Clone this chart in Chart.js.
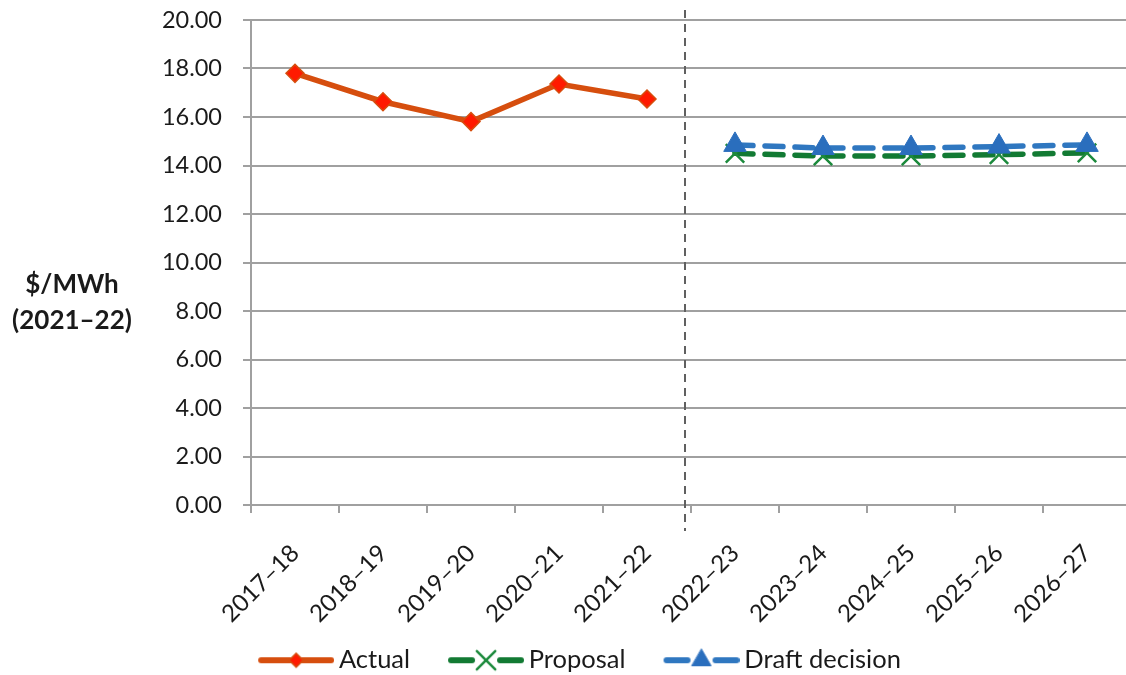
<!DOCTYPE html>
<html>
<head>
<meta charset="utf-8">
<script src="https://cdn.jsdelivr.net/npm/chart.js@4/dist/chart.umd.min.js"></script>
<style>
  html, body { margin: 0; padding: 0; background: #fff; overflow: hidden; }
  #c { display: block; }
</style>
</head>
<body>
<canvas id="c" width="1158" height="683"></canvas>
<script>
// Financial years on the category axis
const years = ['2017–18', '2018–19', '2019–20', '2020–21', '2021–22',
               '2022–23', '2023–24', '2024–25', '2025–26', '2026–27'];

// $/MWh in 2021–22 dollars
const actual   = [17.80, 16.63, 15.81, 17.36, 16.74, null, null, null, null, null];
const proposal = [null, null, null, null, null, 14.50, 14.39, 14.39, 14.45, 14.52];
const draft    = [null, null, null, null, null, 14.85, 14.72, 14.72, 14.78, 14.85];

const yTitle = ['$/MWh', '(2021–22)'];

const FONT = 'Lato, "Open Sans", sans-serif';
const GRID = '#a0a0a0';
const TEXT = '#1a1a1a';

// Legend swatch: a short line with the series marker in its middle.
// The transparent lead-in on the left spaces the legend entries apart.
const SW_LEAD = 36, SW_LINE = 76;
function swatch(ds) {
  const cv = document.createElement('canvas');
  cv.width = SW_LEAD + SW_LINE; cv.height = 28;
  const ctx = cv.getContext('2d');
  const cy = 14, x0 = SW_LEAD + 3, x1 = SW_LEAD + SW_LINE - 3, cx = (x0 + x1) / 2;
  ctx.strokeStyle = ds.borderColor;
  ctx.lineWidth = 6;
  ctx.lineCap = 'round';
  ctx.beginPath();
  if (ds.borderDash && ds.borderDash.length) {
    ctx.moveTo(x0, cy); ctx.lineTo(cx - 14, cy);
    ctx.moveTo(cx + 14, cy); ctx.lineTo(x1, cy);
  } else {
    ctx.moveTo(x0, cy); ctx.lineTo(x1, cy);
  }
  ctx.stroke();
  ctx.fillStyle = ds.pointBackgroundColor;
  ctx.strokeStyle = ds.pointBorderColor;
  ctx.lineWidth = ds.pointBorderWidth;
  Chart.helpers.drawPoint(ctx, {
    pointStyle: ds.pointStyle, radius: ds.legendRadius, rotation: 0,
    borderWidth: ds.pointBorderWidth
  }, cx, cy);
  return cv;
}

// Dashed divider between actual and forecast years, plus horizontal axis title
const extras = {
  id: 'extras',
  beforeDatasetsDraw(chart) {
    const { ctx, scales: { x, y } } = chart;
    const px = Math.round(x.getPixelForValue(4.43));
    ctx.save();
    ctx.strokeStyle = '#606060';
    ctx.lineWidth = 2;
    ctx.setLineDash([8, 6]);
    ctx.beginPath();
    ctx.moveTo(px, chart.chartArea.top - 10);
    ctx.lineTo(px, y.getPixelForValue(0) + 26);
    ctx.stroke();
    ctx.restore();
  },
  afterDraw(chart) {
    const { ctx } = chart;
    ctx.save();
    ctx.font = 'bold 26px ' + FONT;
    ctx.fillStyle = TEXT;
    ctx.textAlign = 'center';
    ctx.textBaseline = 'middle';
    ctx.fillText(yTitle[0], 72, 285);
    ctx.fillText(yTitle[1], 72, 321);
    ctx.restore();
  }
};

const datasets = [
  {
    label: 'Actual', data: actual,
    borderColor: '#d64e0e', borderWidth: 5.5,
    pointStyle: 'rectRot', pointRadius: 9, legendRadius: 7,
    pointBackgroundColor: '#ff1a00', pointBorderColor: '#d64e0e', pointBorderWidth: 1.5,
    order: 3
  },
  {
    label: 'Proposal', data: proposal,
    borderColor: '#127a33', borderWidth: 5.5, borderDash: [18, 12], borderCapStyle: 'round',
    pointStyle: 'crossRot', pointRadius: 13, legendRadius: 13,
    pointBackgroundColor: '#127a33', pointBorderColor: '#1c8a3c', pointBorderWidth: 2.5,
    order: 2
  },
  {
    label: 'Draft decision', data: draft,
    borderColor: '#2f77c0', borderWidth: 5.5, borderDash: [18, 12], borderCapStyle: 'round',
    pointStyle: 'triangle', pointRadius: 13, legendRadius: 11,
    pointBackgroundColor: '#2a6ebd', pointBorderColor: '#2a6ebd', pointBorderWidth: 1,
    order: 1
  }
];

new Chart(document.getElementById('c'), {
  type: 'line',
  data: { labels: years, datasets },
  options: {
    responsive: false,
    animation: false,
    devicePixelRatio: 1,
    spanGaps: false,
    layout: { padding: { top: 20, right: 27, bottom: 0, left: 0 } },
    plugins: {
      tooltip: { enabled: false },
      legend: {
        position: 'bottom',
        labels: {
          usePointStyle: true,
          pointStyleWidth: SW_LEAD + SW_LINE - 16,
          padding: 10,
          color: TEXT,
          font: { family: FONT, size: 25.5 },
          generateLabels(chart) {
            return chart.data.datasets.map((ds, i) => ({
              text: ds.label,
              datasetIndex: i,
              pointStyle: swatch(ds),
              fillStyle: 'transparent',
              strokeStyle: 'transparent',
              lineWidth: 0,
              fontColor: TEXT,
              hidden: false
            }));
          }
        }
      }
    },
    scales: {
      x: {
        offset: true,
        grid: { offset: true, drawOnChartArea: false, drawTicks: true, tickLength: 8, color: GRID, lineWidth: 2 },
        border: { color: GRID, width: 2 },
        ticks: {
          minRotation: 45, maxRotation: 45, padding: 26,
          color: TEXT, font: { family: FONT, size: 24 }
        },
        afterFit(s) { s.height = 132.5; }
      },
      y: {
        min: 0, max: 20,
        grid: { color: GRID, lineWidth: 2, tickLength: 8 },
        border: { color: GRID, width: 2 },
        ticks: {
          stepSize: 2, padding: 21, color: TEXT,
          font: { family: FONT, size: 23.5 },
          callback: v => Number(v).toFixed(2)
        },
        afterFit(s) { s.width = 251; s.paddingTop = 0; s.paddingBottom = 0; }
      }
    }
  },
  plugins: [extras]
});
</script>
</body>
</html>
